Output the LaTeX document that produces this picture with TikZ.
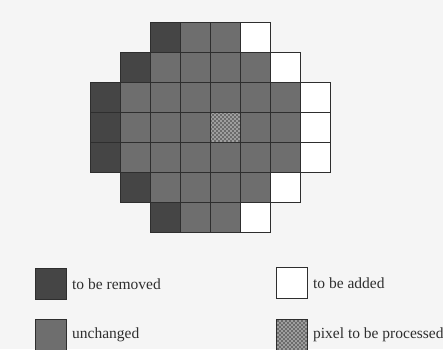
\documentclass[tikz,border=0pt]{standalone}
\usepackage{fontspec}
\setmainfont{Liberation Serif}
\usetikzlibrary{positioning}

\definecolor{paper}{gray}{0.96}
\definecolor{removed}{gray}{0.27}
\definecolor{kept}{gray}{0.43}
\definecolor{ink}{gray}{0.18}
\definecolor{dotlight}{gray}{0.62}
\definecolor{dotdark}{gray}{0.42}

\begin{document}
\begin{tikzpicture}[
  x=1pt, y=-1pt,
  cell/.style={draw=ink, line width=0.9pt},
  rem/.style={cell, fill=removed},
  keep/.style={cell, fill=kept},
  add/.style={cell, fill=white},
  chequer/.style={fill=dotlight, path picture={
    \foreach \i in {0,...,15} \foreach \j in {0,...,15} {
      \pgfmathtruncatemacro\k{mod(\i+\j,2)}
      \ifnum\k=0 \fill[dotdark] ([shift={(2*\i,2*\j)}]path picture bounding box.north west) rectangle ++(2,2);\fi
    }}},
  key/.style={cell, minimum size=31pt, inner sep=0pt},
  lbl/.style={font=\fontsize{15.5}{17}\selectfont, text=ink, inner sep=1pt, anchor=west},
  node distance=4pt,
]
\useasboundingbox (0,0) rectangle (443,349);
\fill[paper] (0,0) rectangle (443,349);

% row / first column (removed) / last column (added)
\foreach \r/\a/\b [evaluate=\a as \s using int(\a+1), evaluate=\b as \e using int(\b-1)]
    in {0/2/5,1/1/6,2/0/7,3/0/7,4/0/7,5/1/6,6/2/5} {
  \draw[rem] (90+30*\a, 22+30*\r) rectangle ++(30,30);
  \foreach \c in {\s,...,\e} { \draw[keep] (90+30*\c, 22+30*\r) rectangle ++(30,30); }
  \draw[add] (90+30*\b, 22+30*\r) rectangle ++(30,30);
}
% pixel to be processed
\draw[cell, chequer] (210,112) rectangle ++(30,30);

% legend
\node[key, fill=removed] (krem) at (51,284) {};
\node[lbl, right=of krem] (trem) {to be removed};
\node[key, fill=white] (kadd) at (292,283) {};
\node[lbl, right=of kadd] (tadd) {to be added};
\node[key, fill=kept] (kkeep) at (51,335) {};
\node[lbl, right=of kkeep] (tkeep) {unchanged};
\node[key, chequer] (kproc) at (292,335) {};
\node[lbl, right=of kproc] (tproc) {pixel to be processed};
\end{tikzpicture}
\end{document}
